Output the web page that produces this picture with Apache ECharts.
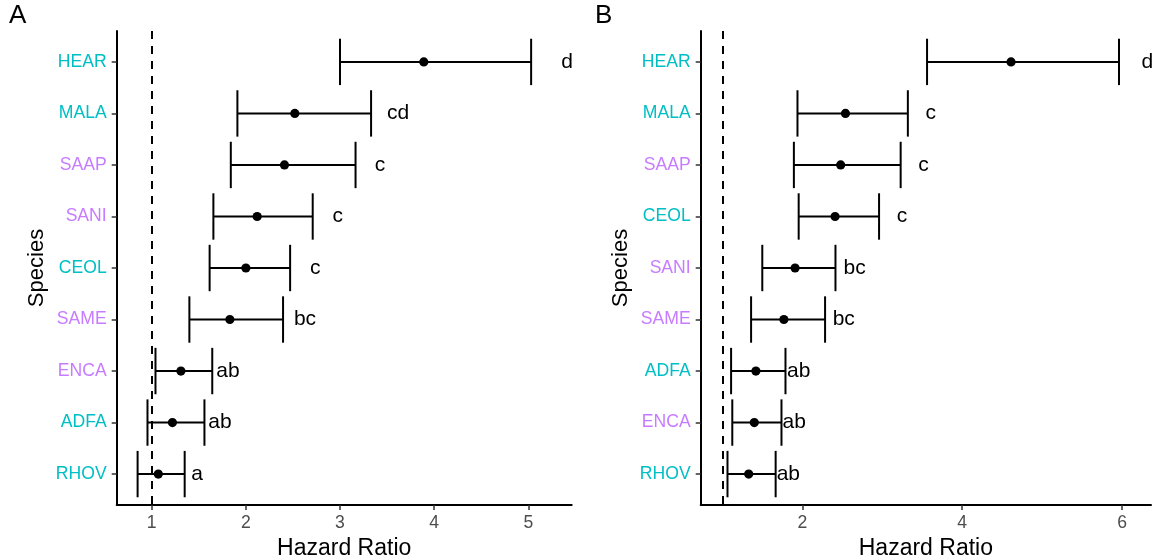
<!DOCTYPE html>
<html>
<head>
<meta charset="utf-8">
<script src="https://cdn.jsdelivr.net/npm/echarts@6/dist/echarts.min.js"></script>
<style>
  html, body { margin: 0; padding: 0; background: #fff; }
  #chart { width: 1153px; height: 559px; }
</style>
</head>
<body>
<div id="chart"></div>
<script>
// 物种颜色分组
const tealSpecies = ["HEAR", "MALA", "CEOL", "ADFA", "RHOV"];
const TEAL = "#00BFC4";
const PURPLE = "#C77CFF";

// 面板 A（从上到下）
const speciesA = ["HEAR", "MALA", "SAAP", "SANI", "CEOL", "SAME", "ENCA", "ADFA", "RHOV"];
const hrA = [3.89, 2.52, 2.41, 2.12, 2.0, 1.83, 1.31, 1.22, 1.07];
const lowA = [3.0, 1.91, 1.84, 1.655, 1.615, 1.4, 1.04, 0.955, 0.85];
const highA = [5.03, 3.33, 3.165, 2.71, 2.47, 2.395, 1.643, 1.56, 1.35];
const letterA = ["d", "cd", "c", "c", "c", "bc", "ab", "ab", "a"];
const letterXA = [5.35, 3.5, 3.37, 2.92, 2.68, 2.51, 1.686, 1.6, 1.42];
const ticksA = [1, 2, 3, 4, 5];

// 面板 B（从上到下）
const speciesB = ["HEAR", "MALA", "SAAP", "CEOL", "SANI", "SAME", "ADFA", "ENCA", "RHOV"];
const hrB = [4.61, 2.54, 2.48, 2.41, 1.91, 1.77, 1.42, 1.4, 1.33];
const lowB = [3.56, 1.94, 1.895, 1.955, 1.5, 1.36, 1.11, 1.125, 1.065];
const highB = [5.96, 3.32, 3.23, 2.96, 2.415, 2.285, 1.79, 1.74, 1.667];
const letterB = ["d", "c", "c", "c", "bc", "bc", "ab", "ab", "ab"];
const letterXB = [6.24, 3.54, 3.45, 3.18, 2.515, 2.38, 1.81, 1.754, 1.68];
const ticksB = [2, 4, 6];

const FONT = "Liberation Sans, Arial, sans-serif";
const rowIdx = speciesA.map((s, i) => i);

function rows(low, hr, high, lx) {
  return hr.map((v, i) => [i, low[i], v, high[i], lx[i]]);
}

function makeRender(letters) {
  return function (params, api) {
    const y = api.value(0);
    const p0 = api.coord([api.value(1), y]);
    const pm = api.coord([api.value(2), y]);
    const p1 = api.coord([api.value(3), y]);
    const pl = api.coord([api.value(4), y]);
    const capTop = api.coord([api.value(1), y - 0.45])[1];
    const capBot = api.coord([api.value(1), y + 0.45])[1];
    const ls = { stroke: "#000", lineWidth: 2 };
    return {
      type: "group",
      children: [
        { type: "line", shape: { x1: p0[0], y1: p0[1], x2: p1[0], y2: p1[1] }, style: ls },
        { type: "line", shape: { x1: p0[0], y1: capTop, x2: p0[0], y2: capBot }, style: ls },
        { type: "line", shape: { x1: p1[0], y1: capTop, x2: p1[0], y2: capBot }, style: ls },
        { type: "circle", shape: { cx: pm[0], cy: pm[1], r: 4.6 }, style: { fill: "#000" } },
        {
          type: "text",
          x: pl[0], y: pl[1],
          style: {
            text: letters[params.dataIndex], fill: "#000", font: "21px " + FONT,
            align: "left", verticalAlign: "middle"
          }
        }
      ]
    };
  };
}

function yAxisFor(species, gridIndex) {
  return {
    type: "value", gridIndex: gridIndex, inverse: true, min: -0.6, max: 8.6,
    name: "Species", nameLocation: "middle", nameRotate: 90, nameGap: 69,
    nameTextStyle: { fontFamily: FONT, fontSize: 22, color: "#000" },
    axisLine: { show: true, onZero: false, lineStyle: { color: "#000", width: 2 } },
    axisTick: { show: true, length: 5, customValues: rowIdx, lineStyle: { color: "#333", width: 1.5 } },
    splitLine: { show: false },
    axisLabel: {
      customValues: rowIdx, margin: 10,
      formatter: v => {
        const s = species[Math.round(v)];
        return (tealSpecies.includes(s) ? "{t|" : "{p|") + s + "}";
      },
      rich: {
        t: { color: TEAL, fontFamily: FONT, fontSize: 17.6 },
        p: { color: PURPLE, fontFamily: FONT, fontSize: 17.6 }
      }
    }
  };
}

function xAxisFor(min, max, ticks, gridIndex) {
  return {
    type: "value", gridIndex: gridIndex, min: min, max: max,
    name: "Hazard Ratio", nameLocation: "middle", nameGap: 29,
    nameTextStyle: { fontFamily: FONT, fontSize: 23, color: "#000" },
    axisLine: { show: true, onZero: false, lineStyle: { color: "#000", width: 2 } },
    axisTick: { show: true, length: 5, customValues: ticks, lineStyle: { color: "#333", width: 1.5 } },
    splitLine: { show: false },
    axisLabel: { customValues: ticks, margin: 9, color: "#4D4D4D", fontFamily: FONT, fontSize: 17.6 }
  };
}

function refLine() {
  return {
    silent: true, symbol: "none", label: { show: false },
    lineStyle: { color: "#000", type: [8, 7], width: 2 },
    data: [{ xAxis: 1 }]
  };
}

const chart = echarts.init(document.getElementById("chart"));
chart.setOption({
  animation: false,
  backgroundColor: "#fff",
  graphic: [
    { type: "text", left: 9, top: 3, style: { text: "A", font: "26px " + FONT, fill: "#000" } },
    { type: "text", left: 595, top: 3, style: { text: "B", font: "26px " + FONT, fill: "#000" } }
  ],
  grid: [
    { left: 116.7, right: 581.3, top: 31, bottom: 54, outerBoundsMode: "none" },
    { left: 700.7, right: 2, top: 31, bottom: 54, outerBoundsMode: "none" }
  ],
  xAxis: [xAxisFor(0.628, 5.461, ticksA, 0), xAxisFor(0.73, 6.36, ticksB, 1)],
  yAxis: [yAxisFor(speciesA, 0), yAxisFor(speciesB, 1)],
  series: [
    {
      type: "custom", xAxisIndex: 0, yAxisIndex: 0, clip: false,
      renderItem: makeRender(letterA),
      encode: { x: [1, 2, 3, 4], y: 0 },
      data: rows(lowA, hrA, highA, letterXA),
      markLine: refLine()
    },
    {
      type: "custom", xAxisIndex: 1, yAxisIndex: 1, clip: false,
      renderItem: makeRender(letterB),
      encode: { x: [1, 2, 3, 4], y: 0 },
      data: rows(lowB, hrB, highB, letterXB),
      markLine: refLine()
    }
  ]
});
</script>
</body>
</html>
